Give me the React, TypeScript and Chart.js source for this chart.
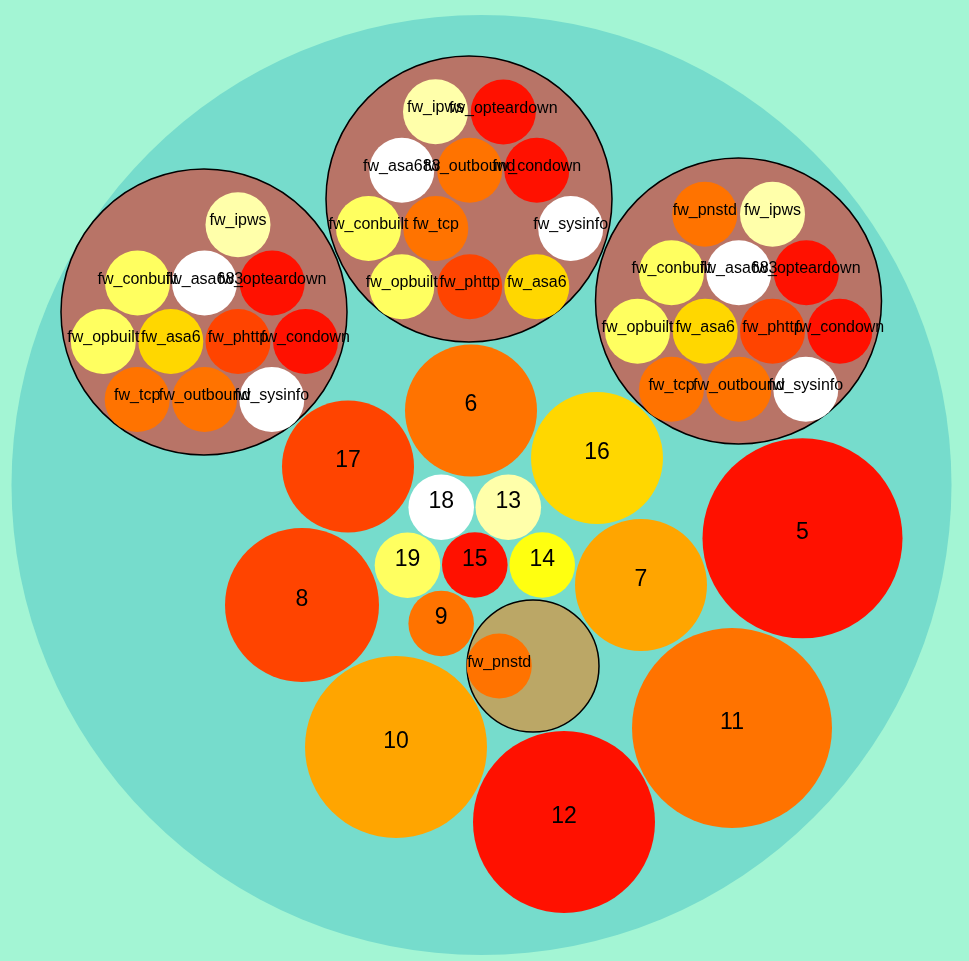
import React, { useEffect, useRef } from "react";
import { Chart, registerables } from "chart.js";

Chart.register(...registerables);

// Outer container circle
const outerX = [481.5];
const outerY = [485];
const outerR = [470];

// Group circles (three firewall groups + fw_pnstd group)
const groupX = [469, 204, 738.5, 533];
const groupY = [199, 312, 301, 666];
const groupR = [143, 143, 143, 66];
const groupKind = ["fw", "fw", "fw", "pn"];

// Leaf circles
const leafNames = [
  // top group
  "fw_ipws", "fw_opteardown", "fw_asa683", "fw_outbound", "fw_condown", "fw_conbuilt",
  "fw_tcp", "fw_sysinfo", "fw_opbuilt", "fw_phttp", "fw_asa6",
  // left group
  "fw_ipws", "fw_conbuilt", "fw_asa683", "fw_opteardown", "fw_opbuilt", "fw_asa6",
  "fw_phttp", "fw_condown", "fw_tcp", "fw_outbound", "fw_sysinfo",
  // right group
  "fw_pnstd", "fw_ipws", "fw_conbuilt", "fw_asa683", "fw_opteardown", "fw_opbuilt",
  "fw_asa6", "fw_phttp", "fw_condown", "fw_tcp", "fw_outbound", "fw_sysinfo",
  // pnstd group
  "fw_pnstd",
  // numbered
  "5", "6", "7", "8", "9", "10", "11", "12", "13", "14", "15", "16", "17", "18", "19",
];
const leafX = [
  435.5, 503.3, 401.8, 469.7, 536.8, 368.5, 435.8, 570.7, 401.8, 469.7, 536.8,
  238, 137.5, 204.5, 272.2, 103.3, 170.8, 238, 305.5, 137.2, 204.5, 271.8,
  704.8, 772.5, 671.5, 738.8, 806.3, 637.5, 705.2, 772.5, 839.8, 671.5, 738.8, 805.8,
  499.2,
  802.5, 471, 641, 302, 441.2, 396, 732, 564, 508.3, 542.2, 474.8, 597, 348, 441.2, 407.5,
];
const leafY = [
  111.8, 112, 170.2, 170.2, 170.2, 228.5, 228.5, 228.5, 286.7, 286.7, 286.7,
  224.8, 283, 283, 283, 341.5, 341.5, 341.5, 341.5, 399.5, 399.5, 399.5,
  214.3, 214.3, 272.7, 272.7, 272.7, 331.2, 331.2, 331.2, 331.2, 389.2, 389.2, 389.2,
  666,
  538.3, 410.5, 585, 605, 623.5, 747, 728, 822, 507.2, 565, 565, 458, 466.5, 507.2, 565.2,
];
const leafR = [
  32.5, 32.5, 32.5, 32.5, 32.5, 32.5, 32.5, 32.5, 32.5, 32.5, 32.5,
  32.5, 32.5, 32.5, 32.5, 32.5, 32.5, 32.5, 32.5, 32.5, 32.5, 32.5,
  32.5, 32.5, 32.5, 32.5, 32.5, 32.5, 32.5, 32.5, 32.5, 32.5, 32.5, 32.5,
  32.6,
  100, 66, 66, 77, 32.8, 91, 100, 91, 32.8, 32.8, 32.8, 66, 66, 32.8, 32.8,
];

const RED = "#ff1100";
const ORANGE = "#ff7300";
const ORANGE_RED = "#ff4400";
const AMBER = "#ffa500";
const GOLD = "#ffd700";
const YELLOW = "#ffff60";
const PALE = "#ffffaa";
const WHITE = "#ffffff";

const colorByName: Record<string, string> = {
  fw_ipws: PALE,
  fw_opteardown: RED,
  fw_asa683: WHITE,
  fw_outbound: ORANGE,
  fw_condown: RED,
  fw_conbuilt: YELLOW,
  fw_tcp: ORANGE,
  fw_sysinfo: WHITE,
  fw_opbuilt: YELLOW,
  fw_phttp: ORANGE_RED,
  fw_asa6: GOLD,
  fw_pnstd: ORANGE,
  "5": RED,
  "6": ORANGE,
  "7": AMBER,
  "8": ORANGE_RED,
  "9": ORANGE,
  "10": AMBER,
  "11": ORANGE,
  "12": RED,
  "13": PALE,
  "14": "#ffff10",
  "15": RED,
  "16": GOLD,
  "17": ORANGE_RED,
  "18": WHITE,
  "19": YELLOW,
};

const BG = "#a3f5d4";
const TEAL = "#76dccc";
const BROWN = "#b87467";
const TAN = "#bba766";

const labelPlugin = {
  id: "leafLabels",
  beforeDraw(chart: any) {
    const ctx = chart.ctx;
    ctx.save();
    ctx.fillStyle = BG;
    ctx.fillRect(0, 0, chart.width, chart.height);
    ctx.restore();
  },
  afterDatasetsDraw(chart: any) {
    const ctx = chart.ctx;
    const meta = chart.getDatasetMeta(0);
    ctx.save();
    ctx.fillStyle = "#000";
    ctx.textAlign = "center";
    ctx.textBaseline = "alphabetic";
    meta.data.forEach((el: any, i: number) => {
      const name = leafNames[i];
      const isNum = /^\d+$/.test(name);
      ctx.font = isNum ? '23px "Liberation Sans", Arial, sans-serif' : '16px "Liberation Sans", Arial, sans-serif';
      ctx.fillText(name, el.x, el.y + 0.5);
    });
    ctx.restore();
  },
};

export default function App() {
  const ref = useRef<HTMLCanvasElement | null>(null);

  useEffect(() => {
    if (!ref.current) return;
    const chart = new Chart(ref.current, {
      type: "bubble",
      data: {
        datasets: [
          {
            label: "leaves",
            data: leafNames.map((_, i) => ({ x: leafX[i], y: leafY[i], r: leafR[i] })),
            backgroundColor: leafNames.map((n) => colorByName[n]),
            borderWidth: 0,
            borderColor: "rgba(0,0,0,0)",
            order: 0,
          },
          {
            label: "groups",
            data: groupX.map((x, i) => ({ x, y: groupY[i], r: groupR[i] })),
            backgroundColor: groupKind.map((k) => (k === "fw" ? BROWN : TAN)),
            borderColor: "#000",
            borderWidth: 1.5,
            order: 1,
          },
          {
            label: "root",
            data: outerX.map((x, i) => ({ x, y: outerY[i], r: outerR[i] })),
            backgroundColor: TEAL,
            borderWidth: 0,
            borderColor: "rgba(0,0,0,0)",
            order: 2,
          },
        ],
      },
      options: {
        animation: false,
        responsive: false,
        devicePixelRatio: 1,
        events: [],
        layout: { padding: 0, autoPadding: false },
        clip: false as any,
        plugins: {
          legend: { display: false },
          tooltip: { enabled: false },
          title: { display: false },
        },
        scales: {
          x: { type: "linear", min: 0, max: 969, display: false },
          y: { type: "linear", min: 0, max: 961, reverse: true, display: false },
        },
      },
      plugins: [labelPlugin],
    });
    return () => chart.destroy();
  }, []);

  return (
    <div style={{ position: "fixed", left: 0, top: 0, width: 969, height: 961, background: BG }}>
      <canvas ref={ref} width={969} height={961} style={{ display: "block", width: 969, height: 961 }} />
    </div>
  );
}
